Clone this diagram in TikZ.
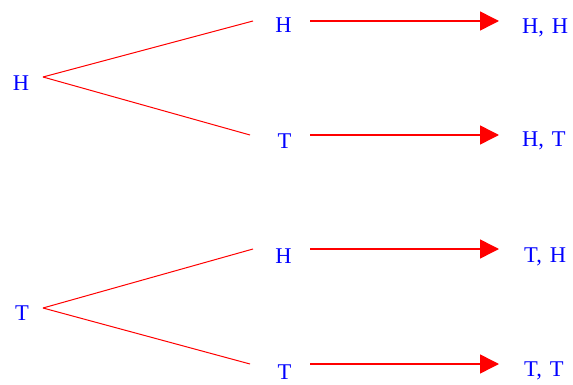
\documentclass[tikz,border=0pt]{standalone}
\usepackage{fontspec}
\setmainfont{Liberation Serif}
\usetikzlibrary{arrows.meta}
\definecolor{pblue}{RGB}{0,0,255}
\definecolor{pred}{RGB}{255,0,0}
\tikzset{
  lbl/.style={text=pblue, font=\fontsize{22.5}{26}\selectfont, inner sep=0pt},
  res/.style={lbl, anchor=west},
  branch/.style={draw=pred, line width=1pt},
  arr/.style={draw=pred, line width=1.5pt, -{Triangle[length=19pt,width=19pt]}}
}
\begin{document}
\begin{tikzpicture}[x=1pt,y=-1pt]
\useasboundingbox (0,0) rectangle (573,385);
% first coin
\node[lbl] (H0) at (21,83.5) {H};
\node[lbl] (T0) at (22,313.5) {T};
% second coin
\node[lbl] (HH1) at (283.5,25.5) {H};
\node[lbl] (HT1) at (284.5,141.5) {T};
\node[lbl] (TH1) at (283.5,256) {H};
\node[lbl] (TT1) at (284.5,372) {T};
% outcomes
\node[res] (rHH) at (522,28) {H,\hspace{0.35em}H};
\node[res] (rHT) at (522,141) {H,\hspace{0.35em}T};
\node[res] (rTH) at (524,257) {T,\hspace{0.35em}H};
\node[res] (rTT) at (524,371) {T,\hspace{0.35em}T};
% fork points and branch ends
\coordinate (fH) at (43,77);
\coordinate (fT) at (43,308);
\coordinate (eHH) at (253,21);
\coordinate (eHT) at (250,135);
\coordinate (eTH) at (253,249);
\coordinate (eTT) at (250,364);
\coordinate (aHH) at (310,21);  \coordinate (tHH) at (499,21);
\coordinate (aHT) at (310,135); \coordinate (tHT) at (499,135);
\coordinate (aTH) at (310,249); \coordinate (tTH) at (499,249);
\coordinate (aTT) at (310,364); \coordinate (tTT) at (499,364);
% branches
\draw[branch] (fH) -- (eHH);
\draw[branch] (fH) -- (eHT);
\draw[branch] (fT) -- (eTH);
\draw[branch] (fT) -- (eTT);
% arrows
\draw[arr] (aHH) -- (tHH);
\draw[arr] (aHT) -- (tHT);
\draw[arr] (aTH) -- (tTH);
\draw[arr] (aTT) -- (tTT);
\end{tikzpicture}
\end{document}
